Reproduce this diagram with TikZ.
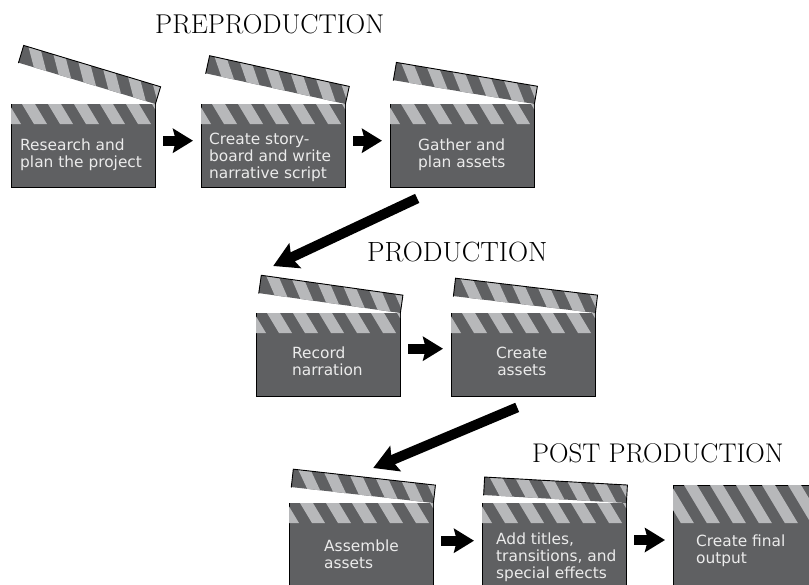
\documentclass[tikz,border=0pt]{standalone}
\usepackage{fontspec}
\setsansfont{DejaVu Sans}
\usetikzlibrary{calc, arrows.meta}
\definecolor{slate}{HTML}{5F6062}
\definecolor{chalk}{HTML}{B7B8BA}
\tikzset{clapbody/.style={anchor=north west, fill=slate, minimum width=144pt, minimum height=83pt, inner sep=0pt}}
\tikzset{claptext/.style={anchor=west, inner sep=0pt, text=white!92!black, align=left, font=\sffamily\fontsize{15.4}{17}\selectfont}}
\tikzset{stripe/.style={fill=chalk}}
\tikzset{edge/.style={black, line width=0.9pt, line cap=rect}}
\tikzset{flow/.style={black, line width=10pt, -{Stealth[length=20pt,width=24pt,inset=3pt]}, shorten <=8pt, shorten >=8pt}}
\tikzset{jump/.style={black, line width=10pt, -{Stealth[length=24pt,width=27pt,inset=4pt]}}}
\tikzset{phase/.style={anchor=base west, inner sep=0pt, font=\rmfamily}}
% striped band, top left corner at #1
\newcommand{\clapband}[3]{
  \begin{scope}[shift={#1}]
    \clip (0,0) rectangle (#2,-#3);
    \foreach \k in {-1,...,6}
      \fill[stripe] ({11+26*\k},0) -- ++(13,0) -- ++({0.6*#3},-#3) -- ++(-13,0) -- cycle;
  \end{scope}
}
% body, band and hinged board of one clapper
\newcommand{\clapper}[8][]{
  \node[clapbody] (#2) at (#3,#4) {};
  \draw[edge] (#2.north west) -- (#2.south west) -- (#2.south east) -- (#2.north east);
  \clapband{(#2.north west)}{144}{20}
  \begin{scope}[shift={(#2.north east)}, rotate=-#5]
    \fill[slate] (-143,0) rectangle (0,18);
    \begin{scope}
      \clip (-143,0) rectangle (0,18);
      \foreach \k in {0,...,5}
        \fill[stripe] ({-138+26*\k},18) -- ++(13,0) -- ++(11,-18) -- ++(-13,0) -- cycle;
    \end{scope}
    \draw[edge] (-143,0) -- (-143,18) -- (0,18) -- (0,0);
  \end{scope}
  \node[claptext, #1] (#2label) at ($(#2.north west)+(#6,-#7)$) {#8};
}
\begin{document}
\begin{tikzpicture}[x=1pt, y=1pt]
        \clip (0,0) rectangle (809,-584);
        % Titles
        \node[phase, font=\rmfamily\fontsize{27.2}{27}\selectfont] (pre) at (155,-33) {PREPRODUCTION};
        \node[phase, font=\rmfamily\fontsize{27.8}{27}\selectfont] (prod) at (367,-261) {PRODUCTION};
        \node[phase, font=\rmfamily\fontsize{27}{27}\selectfont] (post) at (532,-462) {POST PRODUCTION};
        % First row
        \clapper{research}{11}{-104}{16.8}{9}{51}{Research and\\plan the project}
        \clapper{story}{201}{-104}{12.4}{8}{53}{Create story-\\board and write\\narrative script}
        \clapper{gather}{390}{-104}{9.6}{28}{51}{Gather and\\plan assets}
        % Second row
        \clapper{record}{256}{-313}{8}{36}{48}{Record\\narration}
        \clapper[align=center]{assets}{451}{-313}{6.8}{45}{48}{Create\\assets}
        % Third row
        \clapper{assemble}{289}{-503}{6.4}{35}{51}{Assemble\\assets}
        \clapper{titles}{482}{-503}{3.2}{14}{54}{Add titles,\\transitions, and\\special effects}
        % Last one has no gap
        \node[clapbody, minimum height=100pt] (output) at (673,-485) {};
        \draw[edge] (output.south west) -- (output.north west) -- (output.north east);
        \clapband{(output.north west)}{144}{38}
        \node[claptext] (outputlabel) at ($(output.north west)+(23,-66)$) {Create final\\output};
        % Arrows
        \draw[flow] ([yshift=5pt]research.east) -- ([yshift=5pt]story.west);
        \draw[flow] ([yshift=5pt]story.east) -- ([yshift=5pt]gather.west);
        \draw[flow] ([yshift=6pt]record.east) -- ([yshift=6pt]assets.west);
        \draw[flow] ([yshift=4pt]assemble.east) -- ([yshift=4pt]titles.west);
        \draw[flow] (titles.east |- 0,-540) -- (output.west |- 0,-540);
        \coordinate (gatherout) at ($(gather.south)+(-45,-11)$);
        \coordinate (recordin) at ($(record.north)+(-55,47)$);
        \coordinate (assetsout) at ($(assets.south)+(-6,-11)$);
        \coordinate (assemblein) at ($(assemble.north)+(12,35)$);
        \draw[jump] (gatherout) -- (recordin);
        \draw[jump] (assetsout) -- (assemblein);
\end{tikzpicture}
\end{document}
